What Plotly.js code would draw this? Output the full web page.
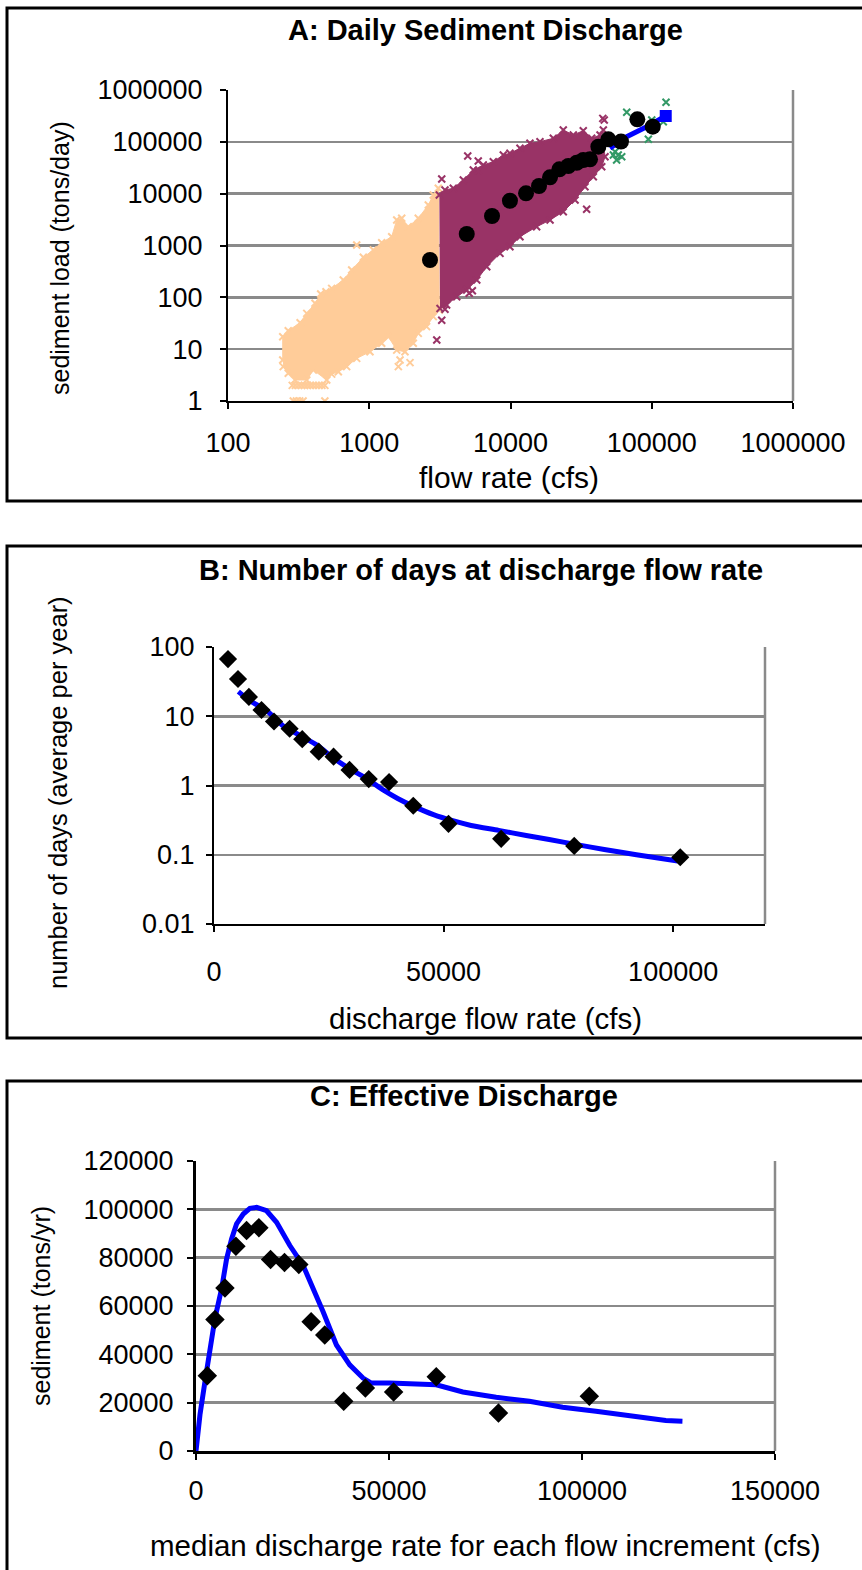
<!DOCTYPE html>
<html>
<head>
<meta charset="utf-8">
<script src="https://cdn.plot.ly/plotly-3.0.1.min.js"></script>
<style>html,body{margin:0;padding:0;background:#fff;}#chart{width:862px;height:1570px;}</style>
</head>
<body>
<div id="chart"></div>
<script>
// ---------- Panel A: daily sediment discharge ----------
// low-flow (peach) cloud outline
const peachFlow = [244, 244, 267, 324, 361, 413, 453, 542, 655, 751, 908, 1069, 1225, 1442, 1565, 1698, 1889, 2223, 2618, 2840, 3082, 3133, 2840, 2547, 2223, 2050, 1791, 1565, 1365, 1225, 1012, 815, 692, 604, 542, 500, 402, 361, 298, 267, 246];
const peachLoad = [6.2, 17.4, 22.7, 32.4, 49, 76.6, 116, 149, 216, 337, 592, 818, 1132, 1479, 3105, 3343, 2306, 3343, 6040, 9420, 12700, 56.9, 42.4, 27.2, 20.2, 13, 8.9, 9.6, 17.4, 13, 8.9, 6.65, 4.6, 3.67, 3.3, 2.54, 3.96, 2.54, 2.54, 3.42, 4.6];
// low-flow isolated points
const peachOutFlow = [815, 494, 1652, 1944, 1607, 285, 300, 316, 332, 348, 365, 382, 400, 420, 440, 462, 485, 290, 305, 322, 340, 485];
const peachOutLoad = [1020, 128, 6.2, 5.5, 4.6, 2, 2, 2, 2, 2, 2, 2, 2, 2, 2, 2, 2, 1, 1, 1, 1, 1];
// mid-flow (purple) cloud outline
const purpleFlow = [3133, 3436, 3936, 4634, 5454, 6417, 7553, 8892, 9910, 11670, 13730, 16170, 20090, 23640, 27840, 32750, 37560, 43050, 45410, 46670, 44240, 38570, 33670, 28640, 23640, 19050, 15310, 11670, 9910, 8430, 6790, 5770, 4900, 4160, 3530, 3170];
const purpleLoad = [9420, 11780, 12700, 18370, 28600, 35700, 41400, 55700, 60000, 75000, 93700, 100700, 117000, 169000, 135500, 164000, 117000, 135500, 100700, 51600, 33100, 21200, 13600, 7550, 4490, 3100, 2300, 1480, 948, 706, 390, 216, 138, 103, 71, 61];
// mid-flow isolated points
const purpleOutFlow = [3260, 4980, 5910, 5910, 46100, 45400, 45000, 34600, 5370, 5100, 3436, 3260, 3006];
const purpleOutLoad = [19200, 53300, 42700, 27700, 264000, 169000, 284000, 4990, 134, 120, 58.7, 36, 15];
// high-flow (green) points
const greenFlow = [126200, 66500, 100000, 120700, 94600, 55000, 57900, 56400, 61300, 53500];
const greenLoad = [580000, 371000, 264000, 244000, 112000, 64600, 55700, 44600, 51600, 55700];
// binned means (black circles)
const meanFlow = [2692, 4900, 7400, 9910, 12880, 15920, 19040, 22190, 25670, 29430, 32750, 36550, 41880, 49240, 60560, 79070, 101600];
const meanLoad = [525, 1667, 3710, 7310, 10160, 14070, 20700, 29500, 34200, 39500, 44570, 46000, 80600, 111900, 101000, 272000, 196000];
// blue line and end square
const blueFlow = [50600, 66500, 92000, 125600];
const blueLoad = [75000, 125600, 196000, 315000];
const squareFlow = [125600];
const squareLoad = [315000];
const ticksA_x = [100, 1000, 10000, 100000, 1000000];
const ticksA_xText = ['100', '1000', '10000', '100000', '1000000'];
const ticksA_y = [1, 10, 100, 1000, 10000, 100000, 1000000];
const ticksA_yText = ['1', '10', '100', '1000', '10000', '100000', '1000000'];

// ---------- Panel B: number of days ----------
const daysFlow = [3050, 5230, 7600, 10350, 13070, 16470, 19220, 22810, 26040, 29520, 33700, 38130, 43400, 51070, 62540, 78450, 101540];
const daysCount = [67, 34.5, 19, 12.3, 8.4, 6.6, 4.66, 3.08, 2.61, 1.68, 1.24, 1.12, 0.51, 0.28, 0.17, 0.134, 0.092];
const fitBFlow = [5300, 8000, 11500, 15000, 18700, 22500, 26000, 29500, 33300, 37000, 40000, 43500, 47800, 52000, 56000, 62000, 68000, 73000, 79000, 85000, 92000, 101000];
const fitBCount = [22.7, 16.5, 12, 7.3, 5.3, 3.8, 2.49, 1.75, 1.25, 0.85, 0.65, 0.5, 0.38, 0.31, 0.265, 0.225, 0.19, 0.166, 0.14, 0.119, 0.1, 0.081];
const ticksB_x = [0, 50000, 100000];
const ticksB_xText = ['0', '50000', '100000'];
const ticksB_y = [0.01, 0.1, 1, 10, 100];
const ticksB_yText = ['0.01', '0.1', '1', '10', '100'];

// ---------- Panel C: effective discharge ----------
const effFlow = [2930, 4910, 7500, 10340, 13100, 16290, 19310, 22930, 26640, 29830, 33360, 38270, 43880, 51200, 62240, 78360, 101890];
const effSed = [31110, 54440, 67490, 84770, 91190, 92420, 79260, 78020, 77200, 53490, 47980, 20570, 26050, 24400, 30700, 15760, 22630];
const fitCFlow = [0, 1030, 2330, 3620, 4910, 6640, 7930, 9220, 10510, 12240, 13960, 15700, 18280, 20870, 24310, 27750, 31210, 32930, 36380, 39820, 43270, 45430, 50170, 57930, 62240, 69130, 77760, 86370, 94990, 103620, 112230, 121720, 126020];
const fitCSed = [0, 15060, 28800, 42500, 54850, 67200, 79540, 87770, 93950, 98060, 100400, 100820, 99420, 94640, 85020, 76790, 64440, 57610, 43870, 35640, 30160, 28100, 28100, 27800, 27400, 24400, 22220, 20570, 18100, 16460, 14400, 12590, 12340];
const ticksC_x = [0, 50000, 100000, 150000];
const ticksC_xText = ['0', '50000', '100000', '150000'];
const ticksC_y = [0, 20000, 40000, 60000, 80000, 100000, 120000];
const ticksC_yText = ['0', '20000', '40000', '60000', '80000', '100000', '120000'];

// ---------- layout helpers ----------
const W = 862, H = 1570;
const PX = v => v / W;
const PY = v => 1 - v / H;
const FONT = 'Arial, "Liberation Sans", sans-serif';
const BLUE = '#0000ff';
const PEACH = '#ffcc99', PURPLE = '#993366', GREEN = '#339966';
const GRID = '#8a8a8a';

function xMarkers(color, size) {
  return {symbol: 'x-thin', size: size, color: color, line: {color: color, width: 2}};
}

const traces = [
  // Panel A
  {x: peachFlow, y: peachLoad, xaxis: 'x', yaxis: 'y', type: 'scatter', mode: 'lines+markers', fill: 'toself',
   fillcolor: PEACH, line: {color: PEACH, width: 1}, marker: xMarkers(PEACH, 7)},
  {x: peachOutFlow, y: peachOutLoad, xaxis: 'x', yaxis: 'y', type: 'scatter', mode: 'markers',
   marker: xMarkers(PEACH, 7)},
  {x: purpleFlow, y: purpleLoad, xaxis: 'x', yaxis: 'y', type: 'scatter', mode: 'lines+markers', fill: 'toself',
   fillcolor: PURPLE, line: {color: PURPLE, width: 1}, marker: xMarkers(PURPLE, 7)},
  {x: purpleOutFlow, y: purpleOutLoad, xaxis: 'x', yaxis: 'y', type: 'scatter', mode: 'markers',
   marker: xMarkers(PURPLE, 7)},
  {x: greenFlow, y: greenLoad, xaxis: 'x', yaxis: 'y', type: 'scatter', mode: 'markers',
   marker: xMarkers(GREEN, 7)},
  {x: blueFlow, y: blueLoad, xaxis: 'x', yaxis: 'y', type: 'scatter', mode: 'lines',
   line: {color: BLUE, width: 5}},
  {x: meanFlow, y: meanLoad, xaxis: 'x', yaxis: 'y', type: 'scatter', mode: 'markers',
   marker: {symbol: 'circle', size: 16, color: '#000000'}},
  {x: squareFlow, y: squareLoad, xaxis: 'x', yaxis: 'y', type: 'scatter', mode: 'markers',
   marker: {symbol: 'square', size: 12, color: BLUE}},
  // Panel B
  {x: fitBFlow, y: fitBCount, xaxis: 'x2', yaxis: 'y2', type: 'scatter', mode: 'lines',
   line: {color: BLUE, width: 5, shape: 'spline', smoothing: 0.8}},
  {x: daysFlow, y: daysCount, xaxis: 'x2', yaxis: 'y2', type: 'scatter', mode: 'markers',
   marker: {symbol: 'diamond', size: 14, color: '#000000'}},
  // Panel C
  {x: fitCFlow, y: fitCSed, xaxis: 'x3', yaxis: 'y3', type: 'scatter', mode: 'lines',
   line: {color: BLUE, width: 5}},
  {x: effFlow, y: effSed, xaxis: 'x3', yaxis: 'y3', type: 'scatter', mode: 'markers',
   marker: {symbol: 'diamond', size: 15, color: '#000000'}}
];

const tickFont = {family: FONT, size: 27, color: '#000'};
const baseAxis = {
  showline: true, linecolor: '#000', linewidth: 2,
  ticks: 'outside', ticklen: 6, tickwidth: 2, tickcolor: '#000',
  tickfont: tickFont, zeroline: false, fixedrange: true, tickmode: 'array'
};

const layout = {
  width: W, height: H,
  margin: {l: 0, r: 0, t: 0, b: 0, pad: 0},
  paper_bgcolor: '#ffffff', plot_bgcolor: '#ffffff',
  showlegend: false,
  font: {family: FONT, color: '#000'},
  // Panel A axes
  xaxis: Object.assign({}, baseAxis, {
    type: 'log', range: [2, 6], domain: [PX(228), PX(793)], anchor: 'y',
    tickvals: ticksA_x, ticktext: ticksA_xText, showgrid: false, ticklabelstandoff: 11
  }),
  yaxis: Object.assign({}, baseAxis, {
    type: 'log', range: [0, 6], domain: [PY(401), PY(90)], anchor: 'x',
    tickvals: ticksA_y, ticktext: ticksA_yText,
    showgrid: true, gridcolor: GRID, gridwidth: 2.5, ticklabelstandoff: 12
  }),
  // Panel B axes
  xaxis2: Object.assign({}, baseAxis, {
    range: [0, 120000], domain: [PX(214), PX(765)], anchor: 'y2',
    tickvals: ticksB_x, ticktext: ticksB_xText, showgrid: false, ticklabelstandoff: 17
  }),
  yaxis2: Object.assign({}, baseAxis, {
    type: 'log', range: [-2, 2], domain: [PY(924), PY(647)], anchor: 'x2',
    tickvals: ticksB_y, ticktext: ticksB_yText,
    showgrid: true, gridcolor: GRID, gridwidth: 2.5, ticklabelstandoff: 6
  }),
  // Panel C axes
  xaxis3: Object.assign({}, baseAxis, {
    range: [0, 150000], domain: [PX(196), PX(775)], anchor: 'y3', linewidth: 3,
    tickvals: ticksC_x, ticktext: ticksC_xText, showgrid: false, ticklabelstandoff: 8
  }),
  yaxis3: Object.assign({}, baseAxis, {
    range: [0, 120000], domain: [PY(1451), PY(1161)], anchor: 'x3', linewidth: 3,
    tickvals: ticksC_y, ticktext: ticksC_yText,
    showgrid: true, gridcolor: GRID, gridwidth: 2.5, ticklabelstandoff: 8
  }),
  shapes: [
    // outer panel frames
    {type: 'rect', xref: 'paper', yref: 'paper', x0: PX(7), x1: PX(875), y0: PY(501), y1: PY(8), line: {color: '#000', width: 3}},
    {type: 'rect', xref: 'paper', yref: 'paper', x0: PX(7), x1: PX(875), y0: PY(1038), y1: PY(546), line: {color: '#000', width: 3}},
    {type: 'rect', xref: 'paper', yref: 'paper', x0: PX(7), x1: PX(875), y0: PY(1580), y1: PY(1081), line: {color: '#000', width: 3}},
    // plot-area borders (right side, grey)
    {type: 'line', xref: 'paper', yref: 'paper', x0: PX(793), x1: PX(793), y0: PY(401), y1: PY(90), line: {color: GRID, width: 2.5}, layer: 'below'},
    {type: 'line', xref: 'paper', yref: 'paper', x0: PX(765), x1: PX(765), y0: PY(924), y1: PY(647), line: {color: GRID, width: 2.5}, layer: 'below'},
    {type: 'line', xref: 'paper', yref: 'paper', x0: PX(775), x1: PX(775), y0: PY(1451), y1: PY(1161), line: {color: GRID, width: 2.5}, layer: 'below'}
  ],
  annotations: [
    // Panel A
    {text: '<b>A: Daily Sediment Discharge</b>', xref: 'paper', yref: 'paper', x: PX(485), y: PY(30), xanchor: 'center', yanchor: 'middle', showarrow: false, font: {family: FONT, size: 29}},
    {text: 'sediment load (tons/day)', xref: 'paper', yref: 'paper', x: PX(60), y: PY(258), xanchor: 'center', yanchor: 'middle', textangle: -90, showarrow: false, font: {family: FONT, size: 25}},
    {text: 'flow rate (cfs)', xref: 'paper', yref: 'paper', x: PX(509), y: PY(478), xanchor: 'center', yanchor: 'middle', showarrow: false, font: {family: FONT, size: 30}},
    // Panel B
    {text: '<b>B: Number of days at discharge flow rate</b>', xref: 'paper', yref: 'paper', x: PX(481), y: PY(570), xanchor: 'center', yanchor: 'middle', showarrow: false, font: {family: FONT, size: 29}},
    {text: 'number of days (average per year)', xref: 'paper', yref: 'paper', x: PX(58), y: PY(793), xanchor: 'center', yanchor: 'middle', textangle: -90, showarrow: false, font: {family: FONT, size: 25.5}},
    {text: 'discharge flow rate (cfs)', xref: 'paper', yref: 'paper', x: PX(485), y: PY(1018), xanchor: 'center', yanchor: 'middle', showarrow: false, font: {family: FONT, size: 29.5}},
    // Panel C
    {text: '<b>C: Effective Discharge</b>', xref: 'paper', yref: 'paper', x: PX(464), y: PY(1096), xanchor: 'center', yanchor: 'middle', showarrow: false, font: {family: FONT, size: 29}},
    {text: 'sediment (tons/yr)', xref: 'paper', yref: 'paper', x: PX(41), y: PY(1306), xanchor: 'center', yanchor: 'middle', textangle: -90, showarrow: false, font: {family: FONT, size: 25}},
    {text: 'median discharge rate for each flow increment (cfs)', xref: 'paper', yref: 'paper', x: PX(486), y: PY(1545), xanchor: 'center', yanchor: 'middle', showarrow: false, font: {family: FONT, size: 29.5}}
  ]
};

Plotly.newPlot('chart', traces, layout, {staticPlot: true, displayModeBar: false});
</script>
</body>
</html>
